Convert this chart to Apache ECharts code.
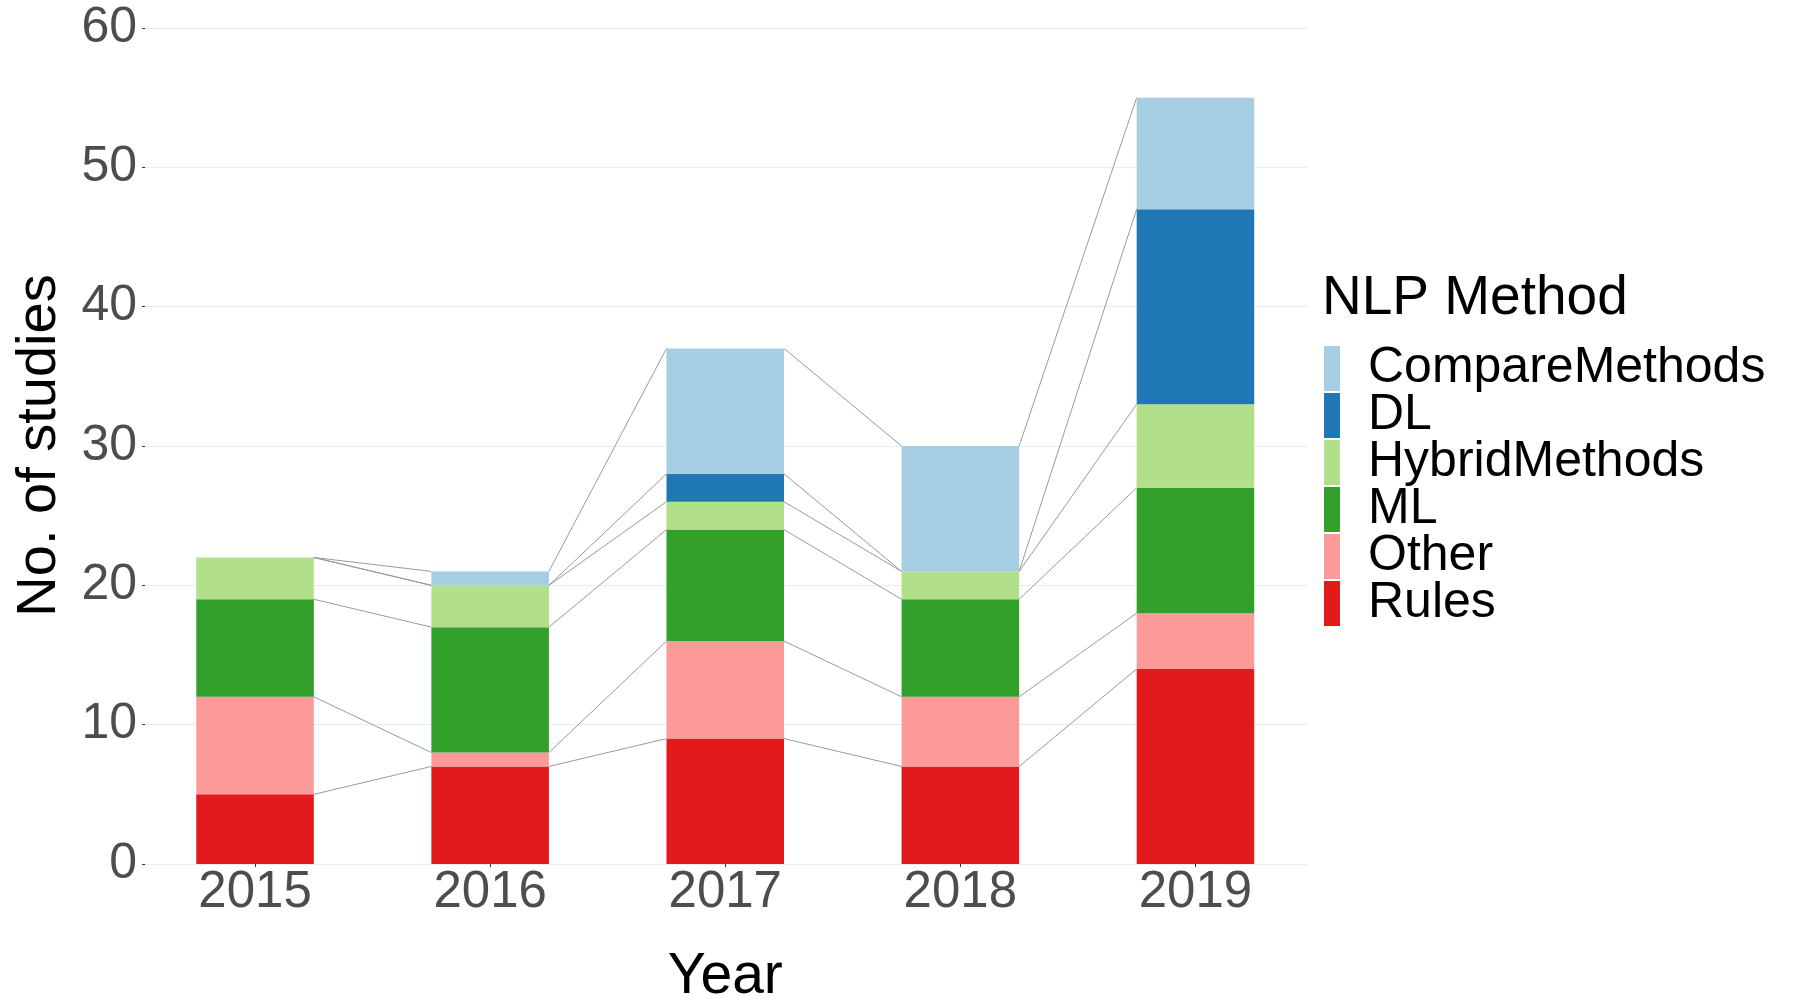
<!DOCTYPE html>
<html>
<head>
<meta charset="utf-8">
<script src="https://cdn.jsdelivr.net/npm/echarts@6/dist/echarts.min.js"></script>
<style>
  html, body { margin: 0; padding: 0; background: #fff; }
  #chart { width: 1800px; height: 1000px; }
</style>
</head>
<body>
<div id="chart"></div>
<script>
// data (studies per year, stacked)
const years = ['2015', '2016', '2017', '2018', '2019'];
const rules = [5, 7, 9, 7, 14];
const other = [7, 1, 7, 5, 4];
const ml = [7, 9, 8, 7, 9];
const hybrid = [3, 3, 2, 2, 6];
const dl = [0, 0, 2, 0, 14];
const compare = [0, 1, 9, 9, 8];
const yTicks = [0, 10, 20, 30, 40, 50, 60];

// bottom to top
const methods = [
    { name: 'Rules', data: rules, color: '#E31A1C' },
    { name: 'Other', data: other, color: '#FB9A99' },
    { name: 'ML', data: ml, color: '#33A02C' },
    { name: 'HybridMethods', data: hybrid, color: '#B2DF8A' },
    { name: 'DL', data: dl, color: '#1F78B4' },
    { name: 'CompareMethods', data: compare, color: '#A6CEE3' }
];

const FONT = '"Liberation Sans", Arial, sans-serif';

// connector segments: cumulative top of each layer, year i -> year i+1
const cum = years.map(() => 0);
const links = [];
methods.forEach(m => {
    m.data.forEach((v, i) => { cum[i] += v; });
    for (let i = 0; i < years.length - 1; i++) links.push([i, cum[i], cum[i + 1]]);
});

const chart = echarts.init(document.getElementById('chart'));

const barSeries = methods.map(m => ({
    name: m.name,
    type: 'bar',
    stack: 'total',
    xAxisIndex: 1,
    yAxisIndex: 1,
    barWidth: '50%',
    data: m.data,
    itemStyle: { color: m.color },
    emphasis: { disabled: true },
    z: 3
}));

chart.setOption({
    animation: false,
    backgroundColor: '#fff',
    textStyle: { fontFamily: FONT },
    title: {
        text: 'NLP Method',
        left: 1322,
        top: 271,
        padding: 0,
        textStyle: { fontFamily: FONT, fontSize: 55, fontWeight: 'normal', color: '#000' }
    },
    legend: {
        orient: 'vertical',
        left: 1319,
        top: 338.5,
        itemWidth: 16,
        itemHeight: 45,
        itemGap: -3,
        icon: 'rect',
        data: methods.map(m => m.name).reverse(),
        textStyle: { fontFamily: FONT, fontSize: 50, color: '#000', padding: [0, 0, 0, 23] }
    },
    // grid 0 carries the y scale and gridlines, grid 1 the bars (slightly wider bands)
    grid: [
        { left: 145, right: 493, top: 28, bottom: 136, outerBoundsMode: 'none' },
        { left: 137.5, right: 487, top: 28, bottom: 136, outerBoundsMode: 'none' }
    ],
    xAxis: [{
        type: 'value',
        gridIndex: 0,
        show: false
    }, {
        type: 'category',
        gridIndex: 1,
        data: years,
        splitLine: { show: false },
        axisLine: { show: false, onZero: false },
        axisTick: { show: true, alignWithLabel: true, length: 3, lineStyle: { color: '#333' } },
        axisLabel: { fontFamily: FONT, fontSize: 51, color: '#4D4D4D', margin: 3 },
        name: 'Year',
        nameLocation: 'middle',
        nameGap: 85,
        nameTextStyle: { fontFamily: FONT, fontSize: 57, color: '#000' }
    }],
    yAxis: [{
        type: 'value',
        gridIndex: 0,
        min: yTicks[0],
        max: yTicks[yTicks.length - 1],
        interval: 10,
        axisLine: { show: false, onZero: false },
        axisTick: { show: true, length: 3, lineStyle: { color: '#333' } },
        axisLabel: { fontFamily: FONT, fontSize: 50, color: '#4D4D4D', margin: 8 },
        splitLine: { lineStyle: { color: '#EBEBEB', width: 1.2 } }
    }, {
        type: 'value',
        gridIndex: 1,
        min: yTicks[0],
        max: yTicks[yTicks.length - 1],
        show: false
    }],
    graphic: [{
        // y axis title, reads bottom to top
        type: 'text',
        x: 39.6,
        y: 445.5,
        rotation: Math.PI / 2,
        style: { text: 'No. of studies', fontFamily: FONT, fontSize: 56, fill: '#000', align: 'center', verticalAlign: 'middle' }
    }],
    series: barSeries.concat([{
        type: 'custom',
        name: 'links',
        xAxisIndex: 1,
        yAxisIndex: 1,
        data: links,
        silent: true,
        z: 2,
        renderItem: (params, api) => {
            const i = api.value(0);
            const a = api.coord([i, api.value(1)]);
            const b = api.coord([i + 1, api.value(2)]);
            const half = api.size([1, 0])[0] * 0.25;
            return {
                type: 'line',
                shape: { x1: a[0] + half, y1: a[1], x2: b[0] - half, y2: b[1] },
                style: { stroke: '#9A9A9A', lineWidth: 1 }
            };
        }
    }])
});
</script>
</body>
</html>
